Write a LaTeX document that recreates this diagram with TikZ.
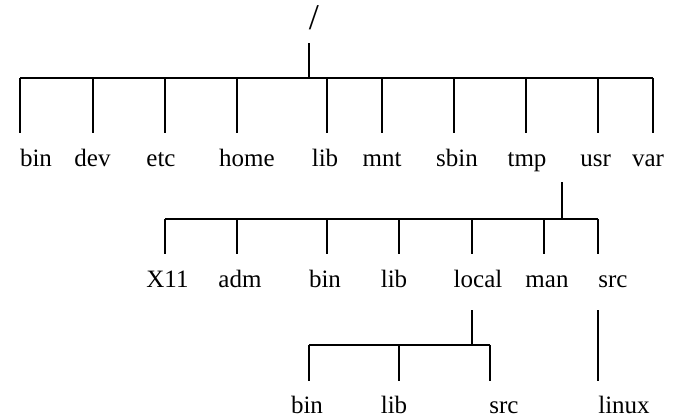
\documentclass[tikz,border=0pt]{standalone}
\usepackage{fontspec}
\setmainfont{Liberation Serif}
\tikzstyle{every node}=[font=\fontsize{10}{12}\selectfont]
\tikzstyle{dir}=[anchor=base,inner sep=0pt,text height=7pt,text depth=2pt]
\tikzstyle{branch}=[line width=0.75pt]
\tikzstyle{twig}=[branch,shorten >=6.2pt]

\begin{document}
\begin{tikzpicture}[x=0.4pt,y=-0.4pt]
  \useasboundingbox (0,0) rectangle (675,419);
  \node[dir,font=\fontsize{14.5}{16}\selectfont] (root) at (314,30) {/};
  % first level
  \coordinate (bar1) at (309.3,78);
  \foreach \n/\lx/\bx in {bin/36/20, dev/92.5/92.7, etc/161/164.7,
      home/247/237, lib/325/327.3, mnt/382/381.7, sbin/457/454,
      tmp/527/526, usr/595.6/598.3, var/648/652.7}{
    \node[dir] (\n) at (\lx,166.7) {\n};
    \coordinate (\n-j) at (\bx,78);
    \draw[twig] (\n-j) -- (\n-j |- \n.north);
  }
  \draw[branch] (bin-j) -- (var-j);
  \draw[branch,shorten <=3.1pt] (bar1 |- root.south) -- (bar1);
  % under usr
  \coordinate (bar2) at (562.3,219);
  \foreach \n/\lx/\bx in {X11/167.5/165, adm/240/236.7, bin/325/327.3,
      lib/394/399.3, local/478/471.7, man/547/544, src/613/598.3}{
    \node[dir] (u-\n) at (\lx,288) {\n};
    \coordinate (u-\n-j) at (\bx,219);
    \draw[twig] (u-\n-j) -- (u-\n-j |- u-\n.north);
  }
  \draw[branch] (u-X11-j) -- (u-src-j);
  \draw[branch,shorten <=4pt] (bar2 |- usr.south) -- (bar2);
  % under local
  \coordinate (bar3) at (471.7,345);
  \foreach \n/\lx/\bx in {bin/307/309.3, lib/394/399.3, src/504/490}{
    \node[dir] (l-\n) at (\lx,414) {\n};
    \coordinate (l-\n-j) at (\bx,345);
    \draw[twig,shorten >=5.9pt] (l-\n-j) -- (l-\n-j |- l-\n.north);
  }
  \draw[branch] (l-bin-j) -- (l-src-j);
  \draw[branch,shorten <=6.8pt] (bar3 |- u-local.south) -- (bar3);
  % under src
  \node[dir] (linux) at (624,414) {linux};
  \draw[branch,shorten <=6.8pt,shorten >=5.9pt] (u-src-j |- u-src.south) -- (u-src-j |- linux.north);
\end{tikzpicture}
\end{document}
